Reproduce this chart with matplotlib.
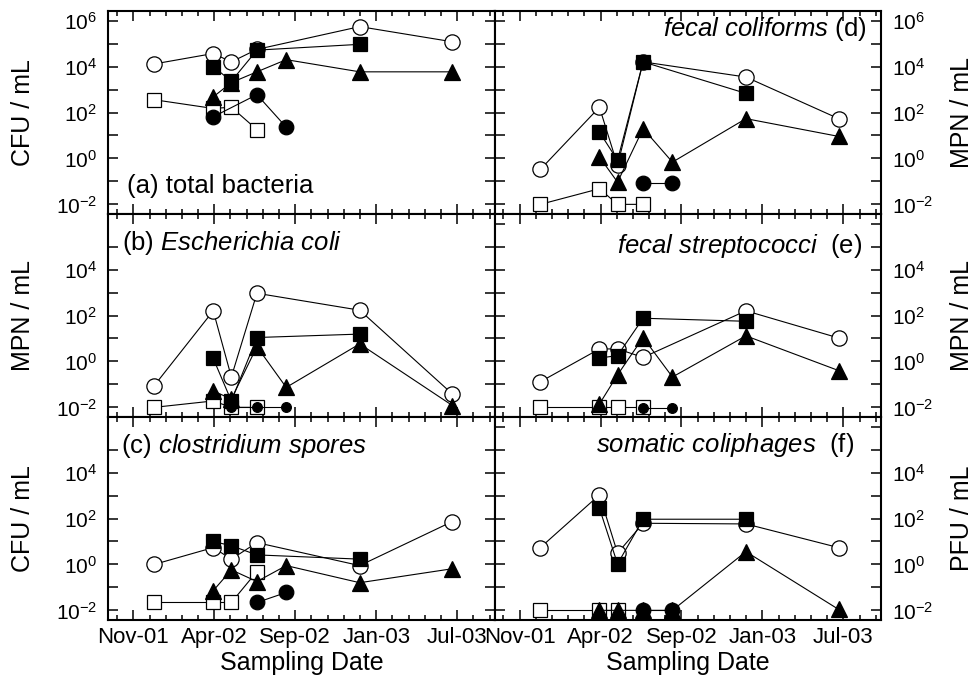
import numpy as np
import pandas as pd
import matplotlib
matplotlib.use("Agg")
import matplotlib.pyplot as plt
from matplotlib.ticker import FixedLocator

plt.rcParams['font.family'] = ['Liberation Sans', 'DejaVu Sans']
plt.rcParams['mathtext.fontset'] = 'custom'
plt.rcParams['mathtext.rm'] = 'Liberation Sans'
plt.rcParams['mathtext.it'] = 'Liberation Sans:italic'

# ---- data -------------------------------------------------------------
sampling_dates = ['2001-12-10', '2002-03-31', '2002-05-04', '2002-06-21',
                  '2002-08-15', '2002-12-31', '2003-06-23']
date_ticks = ['2001-11-01', '2002-04-02', '2002-09-01', '2003-01-31', '2003-07-02']
date_tick_labels = ['Nov-01', 'Apr-02', 'Sep-02', 'Jan-03', 'Jul-03']
x_limits = ['2001-09-15', '2003-09-10']

y_decades = [-2, -1, 0, 1, 2, 3, 4, 5, 6]
y_tick_labels_top = [r'$\mathregular{10^{-2}}$', '', r'$\mathregular{10^{0}}$', '',
                     r'$\mathregular{10^{2}}$', '', r'$\mathregular{10^{4}}$', '',
                     r'$\mathregular{10^{6}}$']
y_tick_labels_lower = y_tick_labels_top[:-1] + ['']

n = np.nan
# site series: open circle, filled square, filled triangle, filled circle, open square
total_bacteria = {
    'oc': [1.3e4, 3.7e4, 1.6e4, 5.6e4, n, 5.5e5, 1.2e5],
    'fs': [n, 1.0e4, 2.3e3, 5.2e4, n, 9.3e4, n],
    'ft': [n, 4.8e2, 2.0e3, 5.9e3, 2.0e4, 5.9e3, 5.9e3],
    'fc': [n, 65, n, 6.0e2, 23, n, n],
    'os': [3.6e2, 1.5e2, 1.7e2, 18, n, n, n],
}
e_coli = {
    'oc': [0.087, 1.6e2, 0.21, 9.3e2, n, 1.7e2, 0.038],
    'fs': [n, 1.35, 0.019, 11, n, 15.5, n],
    'ft': [n, 0.052, 0.023, 4.4, 0.074, 5.8, 0.012],
    'fc': [n, n, 0.01, 0.01, 0.01, n, n],
    'os': [0.01, 0.019, 0.01, 0.01, n, n, n],
}
clostridium = {
    'oc': [1.0, 5.4, 1.7, 8.9, n, 0.89, 74],
    'fs': [n, 10, 6.5, 2.6, n, 1.7, n],
    'ft': [n, 0.072, 0.58, 0.18, 0.89, 0.16, 0.65],
    'fc': [n, n, n, 0.022, 0.06, n, n],
    'os': [0.022, 0.022, 0.022, 0.49, n, n, n],
}
fecal_coliforms = {
    'oc': [0.33, 1.7e2, 0.5, 1.6e4, n, 3.5e3, 54],
    'fs': [n, 14, 0.83, 1.6e4, n, 6.8e2, n],
    'ft': [n, 1.15, 0.093, 20, 0.69, 54, 9.1],
    'fc': [n, n, n, 0.085, 0.085, n, n],
    'os': [0.01, 0.048, 0.01, 0.01, n, n, n],
}
fecal_strep = {
    'oc': [0.13, 3.5, 3.5, 1.5, n, 1.6e2, 10.5],
    'fs': [n, 1.4, 1.8, 76, n, 56, n],
    'ft': [n, 0.014, 0.26, 11, 0.21, 13, 0.40],
    'fc': [n, n, n, 0.0095, 0.0095, n, n],
    'os': [0.01, 0.01, 0.01, 0.01, n, n, n],
}
coliphages = {
    'oc': [5.4, 1.07e3, 3.1, 62, n, 58, 5.4],
    'fs': [n, 2.8e2, 1.05, 93, n, 93, n],
    'ft': [n, 0.01, 0.01, 0.01, 0.01, 3.6, 0.011],
    'fc': [n, n, n, 0.01, 0.01, n, n],
    'os': [0.01, 0.01, 0.01, n, n, n, n],
}

panels = [
    # (data, row, col, label, label position, alignment, y label, small dots)
    (total_bacteria, 0, 0, '(a) total bacteria', (0.048, 0.14), 'left', 'CFU / mL', False),
    (e_coli, 1, 0, r'(b) $\mathit{Escherichia\ coli}$', (0.035, 0.857), 'left', 'MPN / mL', True),
    (clostridium, 2, 0, r'(c) $\mathit{clostridium\ spores}$', (0.033, 0.859), 'left', 'CFU / mL', False),
    (fecal_coliforms, 0, 1, r'$\mathit{fecal\ coliforms}$ (d)', (0.964, 0.911), 'right', 'MPN / mL', False),
    (fecal_strep, 1, 1, r'$\mathit{fecal\ streptococci}$  (e)', (0.953, 0.841), 'right', 'MPN / mL', True),
    (coliphages, 2, 1, r'$\mathit{somatic\ coliphages}$  (f)', (0.932, 0.863), 'right', 'PFU / mL', False),
]

# ---- styling -----------------------------------------------------------
origin = pd.Timestamp('2001-11-01')
def to_days(dates):
    return np.array([(pd.Timestamp(d) - origin).days for d in dates], dtype=float)

x_days = to_days(sampling_dates)
major_days = to_days(date_ticks)
xlim_days = to_days(x_limits)
step = (major_days[1] - major_days[0]) / 5.0
minor_days = np.arange(-2, 30) * step
minor_days = minor_days[(minor_days > xlim_days[0]) & (minor_days < xlim_days[1])]

series_style = {
    'os': dict(marker='s', mfc='white', mec='black', ms=10.5),
    'oc': dict(marker='o', mfc='white', mec='black', ms=11),
    'ft': dict(marker='^', mfc='black', mec='black', ms=11),
    'fs': dict(marker='s', mfc='black', mec='black', ms=10),
    'fc': dict(marker='o', mfc='black', mec='black', ms=10.5),
}
draw_order = ['os', 'oc', 'ft', 'fs', 'fc']

W, H = 976, 687
fig, axes = plt.subplots(3, 2, figsize=(W / 100, H / 100), dpi=100)
fig.subplots_adjust(left=108.3 / W, right=880.7 / W,
                    top=1 - 11 / H, bottom=1 - 620 / H,
                    hspace=0, wspace=0)

ylim = (10 ** -2.42, 10 ** 6.42)

for data, r, c, label, lpos, align, ylab, small in panels:
    ax = axes[r, c]
    for key in draw_order:
        vals = np.array(data[key], dtype=float)
        ok = ~np.isnan(vals)
        st = dict(series_style[key])
        if small and key == 'fc':
            st['ms'] = 7
        ax.plot(x_days[ok], vals[ok], color='black', lw=0.8, mew=0.9, **st)
    ax.set_yscale('log')
    ax.set_ylim(*ylim)
    ax.set_xlim(*xlim_days)

    if r == 0 or c == 1:
        yt = [10.0 ** d for d in y_decades]
        ylabels = y_tick_labels_top if r == 0 else y_tick_labels_lower
    else:
        yt = [10.0 ** d for d in y_decades[:-1]]
        ylabels = y_tick_labels_lower[:-1]
    ax.yaxis.set_major_locator(FixedLocator(yt))
    ax.yaxis.set_minor_locator(FixedLocator([]))
    ax.set_yticklabels(ylabels)

    ax.set_xticks(major_days)
    ax.xaxis.set_minor_locator(FixedLocator(minor_days))
    if r == 2:
        ax.set_xticklabels(date_tick_labels)
        ax.set_xlabel('Sampling Date', fontsize=18)
        ax.xaxis.set_label_coords(0.5, -0.212)
        ax.xaxis.label.set_verticalalignment('center')
    else:
        ax.set_xticklabels([])

    ax.tick_params(axis='both', which='both', direction='in',
                   top=True, bottom=True, left=True, right=True, width=1.1)
    ax.tick_params(axis='x', which='major', length=7.5, pad=5, labelsize=16)
    ax.tick_params(axis='x', which='minor', length=3.5)
    ax.tick_params(axis='y', which='major', length=7.5, pad=8, labelsize=15)
    if c == 1:
        ax.tick_params(axis='y', labelleft=False, labelright=True)

    for s in ax.spines.values():
        s.set_linewidth(1.5)

    ax.text(lpos[0], lpos[1], label, transform=ax.transAxes, fontsize=18.5,
            ha=align, va='center')

    # unit label beside each row
    bb = ax.get_position()
    yc = (bb.y0 + bb.y1) / 2
    xc = 23 / W if c == 0 else 962 / W
    fig.text(xc, yc, ylab, fontsize=18, rotation=90, ha='center', va='center')

fig.savefig('out.png', dpi=100)
